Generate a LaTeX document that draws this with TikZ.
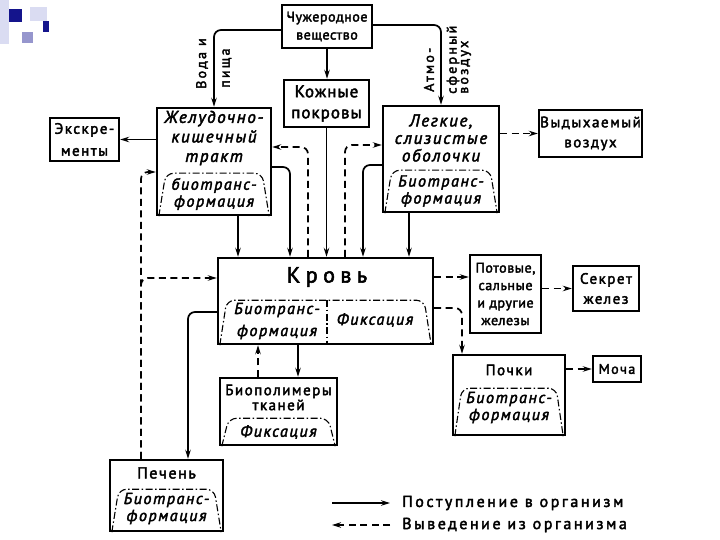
\documentclass[tikz,border=0pt]{standalone}
\usepackage{fontspec}
\setmainfont{PT Sans}[LetterSpace=10, FakeBold=2.5]
\usetikzlibrary{calc, positioning}
\usetikzlibrary{arrows.meta}

\definecolor{slidenavy}{RGB}{20,20,140}
\definecolor{slidelav}{RGB}{150,150,205}
\definecolor{slidepale}{RGB}{218,220,242}

\newcommand{\biocap}[2]{%
  \draw[capline] ([xshift=3pt]#1.south west) -- ([xshift=10pt,yshift=#2]#1.south west)
    -- ([xshift=-10pt,yshift=#2]#1.south east) -- ([xshift=-3pt]#1.south east);}

\begin{document}
\begin{tikzpicture}[x=1pt, y=-1pt,
  box/.style={draw, line width=2.4pt, inner sep=0pt, align=center,
    font=\fontsize{15}{18}\selectfont},
  txt/.style={inner sep=0pt, align=center, font=\fontsize{15}{17}\selectfont},
  itxt/.style={txt, font=\fontsize{16}{17}\selectfont\itshape},
  rlbl/.style={inner sep=0pt, rotate=90, anchor=west,
    font=\fontsize{14}{14}\selectfont\addfontfeatures{LetterSpace=16}},
  inflow/.style={line width=1.7pt, -{Stealth[length=9pt,width=5.5pt]}, rounded corners=7pt},
  outflow/.style={inflow, dash pattern=on 7pt off 4.5pt},
  capline/.style={line width=1.1pt, rounded corners=8pt,
    dash pattern=on 7pt off 2.5pt on 1.5pt off 2.5pt}]
\useasboundingbox (0,0) rectangle (720,540);

\fill[slidepale] (0,0) rectangle (9,44);
\fill[slidepale] (30,7) rectangle (47,21);
\fill[slidenavy] (9,9) rectangle (22,22);
\fill[slidelav] (22,32) rectangle (33,43);
\fill[slidenavy] (43,21) rectangle (49,32);

\node[box, minimum width=90pt, minimum height=43pt, font=\fontsize{14}{18}\selectfont\addfontfeatures{LetterSpace=4}] (xs) at (327,26.5) {Чужеродное\\вещество};
\node[box, minimum width=85pt, minimum height=47pt, font=\fontsize{17}{21}\selectfont\addfontfeatures{LetterSpace=6}] (kp) at (326.5,103.5) {Кожные\\покровы};
\node[box, minimum width=69pt, minimum height=43pt, font=\fontsize{15}{22}\selectfont] (ex) at (84.5,139.5) {Экскре-\\менты};
\node[box, minimum width=103pt, minimum height=47pt, font=\fontsize{15}{20}\selectfont] (vv) at (590.5,133.5) {Выдыхаемый\\воздух};
\node[box, minimum width=71pt, minimum height=78pt, font=\fontsize{14}{17.5}\selectfont\addfontfeatures{LetterSpace=4}] (pz) at (505.5,294) {Потовые,\\сальные\\и другие\\железы};
\node[box, minimum width=66pt, minimum height=45pt, font=\fontsize{15}{20}\selectfont] (sk) at (606,288.5) {Секрет\\желез};
\node[box, minimum width=48pt, minimum height=26pt, font=\fontsize{14}{17}\selectfont] (mo) at (617,369) {Моча};

\node[box, minimum width=114pt, minimum height=107pt] (gi) at (214,161.5) {};
\node[txt, font=\fontsize{17}{19.5}\selectfont\itshape] (gi-t) at (214,138) {Желудочно-\\кишечный\\тракт};
\node[itxt] (gi-c) at (214,194) {биотранс-\\формация};
\biocap{gi}{43pt}

\node[box, minimum width=116pt, minimum height=106pt] (lu) at (441,159) {};
\node[txt, font=\fontsize{17}{17.5}\selectfont\itshape] (lu-t) at (441,138) {Легкие,\\слизистые\\оболочки};
\node[itxt] (lu-c) at (441,191) {Биотранс-\\формация};
\biocap{lu}{43pt}

\node[box, minimum width=215pt, minimum height=86pt] (bl) at (325.5,301) {};
\node[txt, font=\fontsize{22}{24}\selectfont\addfontfeatures{LetterSpace=25}] (bl-t) at (327,277) {Кровь};
\node[txt, font=\fontsize{16}{22}\selectfont\itshape] (bl-c1) at (277,321) {Биотранс-\\формация};
\node[itxt] (bl-c2) at (375,320) {Фиксация};
\biocap{bl}{45pt}
\draw[capline] ([xshift=1.5pt,yshift=45pt]bl.south) -- ([xshift=1.5pt]bl.south);

\node[box, minimum width=117pt, minimum height=67pt] (bp) at (278.5,411.5) {};
\node[txt, font=\fontsize{15}{15}\selectfont] (bp-t) at (278.5,397.5) {Биополимеры\\тканей};
\node[itxt] (bp-c) at (278.5,432) {Фиксация};
\biocap{bp}{28pt}

\node[box, minimum width=112pt, minimum height=80pt] (po) at (509,395) {};
\node[txt] (po-t) at (509,370) {Почки};
\node[itxt] (po-c) at (509,407.5) {Биотранс-\\формация};
\biocap{po}{48pt}

\node[box, minimum width=113pt, minimum height=71pt] (pe) at (166.5,495.5) {};
\node[txt, font=\fontsize{16}{17}\selectfont] (pe-t) at (166.5,473) {Печень};
\node[itxt] (pe-c) at (166.5,508.5) {Биотранс-\\формация};
\biocap{pe}{43pt}

\node[rlbl] (vp1) at (202,89) {Вода и};
\node[rlbl] (vp2) at (227,88) {пища};
\node[rlbl] (am1) at (429,92) {Атмо-};
\node[rlbl] (am2) at (453,94) {сферный};
\node[rlbl] (am3) at (466,94) {воздух};

\draw[inflow] ([yshift=-3.5pt]xs.west) -| (gi.north);
\draw[inflow] ([yshift=1.5pt]xs.east) -| (lu.north);
\draw[inflow] (xs.south) -- (xs.south |- kp.north);
\draw[inflow] (kp.south) -- (kp.south |- bl.north);
\draw[inflow] (gi.west |- ex.east) -- (ex.east);
\draw[inflow] ([xshift=24pt]gi.south) -- ([xshift=24pt]gi.south |- bl.north);
\draw[inflow] ([yshift=-5.5pt]gi.east) -| ([xshift=-35.5pt]bl.north);
\draw[outflow] ([xshift=-17.5pt]bl.north) |- ([yshift=14.5pt]gi.east);
\draw[outflow] ([xshift=19.5pt]bl.north) |- ([yshift=14pt]lu.west);
\draw[inflow] ([yshift=-6pt]lu.west) -| ([xshift=37.5pt]bl.north);
\draw[inflow] ([xshift=-32pt]lu.south) -- ([xshift=-32pt]lu.south |- bl.north);
\draw[outflow] (lu.east |- vv.west) -- (vv.west);
\draw[outflow] ([xshift=-25.5pt]pe.north) |- ([yshift=-10.5pt]gi.west);
\draw[outflow] ([xshift=-25.5pt]pe.north) |- ([yshift=23pt]bl.west);
\draw[inflow] ([yshift=-11pt]bl.west) -| ([xshift=21.5pt]pe.north);
\draw[outflow] ([xshift=-20.5pt]bp.north) -- ([xshift=-20.5pt]bp.north |- bl.south);
\draw[inflow] ([xshift=19.5pt]bp.north |- bl.south) -- ([xshift=19.5pt]bp.north);
\draw[outflow] ([yshift=24pt]bl.east) -- ([yshift=24pt]bl.east -| pz.west);
\draw[outflow] (pz.east |- sk.west) -- (sk.west);
\draw[outflow] ([yshift=-7pt]bl.east) -| ([xshift=-47pt]po.north);
\draw[outflow] (po.east |- mo.west) -- (mo.west);

\coordinate (lg-a) at (332,503);
\coordinate (lg-b) at (390,503);
\coordinate (lg-c) at (332,525);
\coordinate (lg-d) at (390,525);
\draw[inflow] (lg-a) -- (lg-b);
\draw[outflow] (lg-d) -- (lg-c);
\node[txt, anchor=west, font=\fontsize{16}{17}\selectfont\addfontfeatures{LetterSpace=16}] (lg-in) at (402,503) {Поступление в~организм};
\node[txt, anchor=west, font=\fontsize{16}{17}\selectfont\addfontfeatures{LetterSpace=16}] (lg-out) at (402,525) {Выведение из организма};
\end{tikzpicture}
\end{document}
